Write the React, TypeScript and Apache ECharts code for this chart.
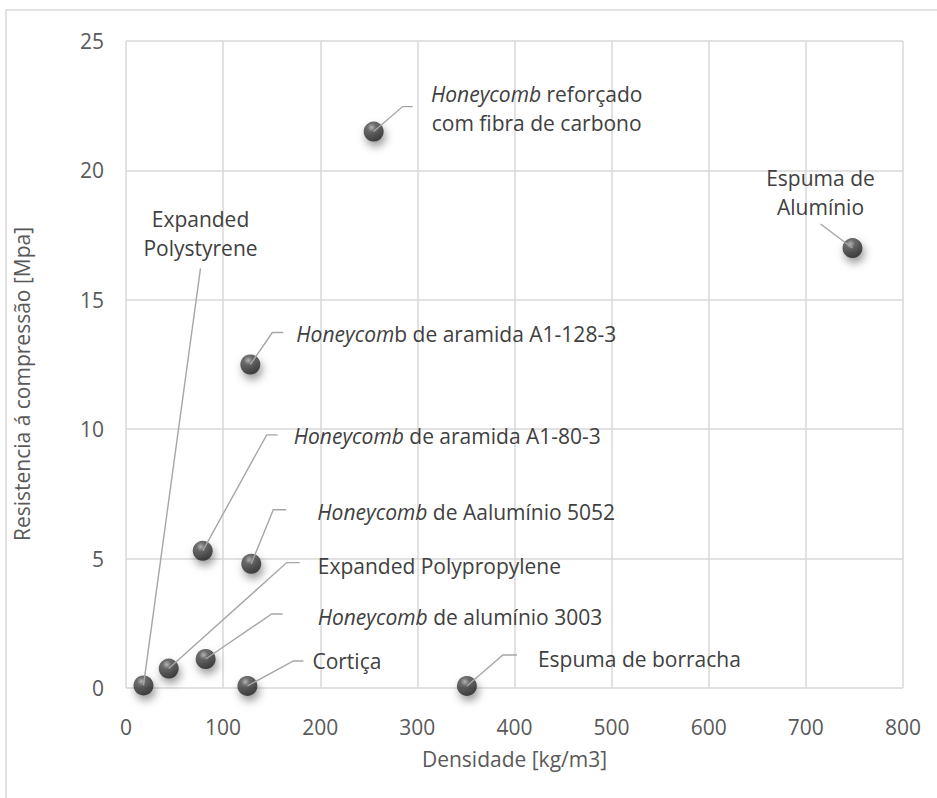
import React, { useEffect, useRef } from "react";
import * as echarts from "echarts";

// Density [kg/m3]
const densities = [18, 44, 82, 125, 351, 79, 129, 128, 255, 748];
// Compressive strength [MPa]
const strengths = [0.1, 0.75, 1.12, 0.08, 0.08, 5.3, 4.8, 12.5, 21.5, 17.0];
// Point labels ({i|...} = italic)
const pointLabels = [
  "Expanded\nPolystyrene",
  "Expanded Polypropylene",
  "{i|Honeycomb} de alumínio 3003",
  "Cortiça",
  "Espuma de borracha",
  "{i|Honeycomb} de aramida A1-80-3",
  "{i|Honeycomb} de Aalumínio 5052",
  "{i|Honeycom}b de aramida A1-128-3",
  "{i|Honeycomb} reforçado\ncom fibra de carbono",
  "Espuma de\nAlumínio",
];
const xTitle = "Densidade [kg/m3]";
const yTitle = "Resistencia á compressão [Mpa]";

// Callout geometry (pixel offsets from each point), kept apart from the data
const calloutLayout = [
  { dx: 57, dy: -417, h: 0, tx: 57, ty: -423, align: "center", va: "bottom" },
  { dx: 118, dy: -106, h: 13, tx: 149, ty: -103, align: "left", va: "middle" },
  { dx: 66, dy: -45, h: 11, tx: 112, ty: -42, align: "left", va: "middle" },
  { dx: 46, dy: -25, h: 10, tx: 65, ty: -25, align: "left", va: "middle" },
  { dx: 36, dy: -31, h: 14, tx: 71, ty: -27, align: "left", va: "middle" },
  { dx: 64, dy: -116, h: 11, tx: 91, ty: -115, align: "left", va: "middle" },
  { dx: 22, dy: -54, h: 13, tx: 66, ty: -52, align: "left", va: "middle" },
  { dx: 22, dy: -32, h: 11, tx: 46, ty: -31, align: "left", va: "middle" },
  { dx: 29, dy: -25, h: 10, tx: 163, ty: -23, align: "center", va: "middle" },
  { dx: -32, dy: -24, h: 0, tx: -32, ty: -27, align: "center", va: "bottom" },
];

const FONT = "'Open Sans', 'Noto Sans', sans-serif";
const FS = 21;

export default function App() {
  const ref = useRef<HTMLDivElement>(null);

  useEffect(() => {
    if (!ref.current) return;
    const chart = echarts.init(ref.current, undefined, { renderer: "svg" });
    const data = densities.map((x, i) => [x, strengths[i]]);

    chart.setOption({
      animation: false,
      backgroundColor: "#ffffff",
      grid: { left: 126, right: 34, top: 41, bottom: 110, containLabel: false },
      xAxis: {
        type: "value",
        min: 0,
        max: 800,
        interval: 100,
        name: xTitle,
        nameLocation: "middle",
        nameGap: 60,
        nameTextStyle: { color: "#595959", fontSize: FS, fontFamily: FONT },
        axisLine: { show: false },
        axisTick: { show: false },
        axisLabel: { color: "#595959", fontSize: FS, fontFamily: FONT, margin: 28 },
        splitLine: { show: true, lineStyle: { color: "#d9d9d9", width: 1.5 } },
      },
      yAxis: {
        type: "value",
        min: 0,
        max: 25,
        interval: 5,
        axisLine: { show: false },
        axisTick: { show: false },
        axisLabel: { color: "#595959", fontSize: FS, fontFamily: FONT, margin: 22 },
        splitLine: { show: true, lineStyle: { color: "#d9d9d9", width: 1.5 } },
      },
      graphic: [
        {
          type: "rect",
          silent: true,
          shape: { x: 6, y: 10, width: 1200, height: 1200 },
          style: { fill: "none", stroke: "#d9d9d9", lineWidth: 1.5 },
          z: -10,
        },
        {
          type: "text",
          x: 22,
          y: 384,
          rotation: Math.PI / 2,
          style: {
            text: yTitle,
            fill: "#595959",
            fontSize: FS,
            fontFamily: FONT,
            align: "center",
            verticalAlign: "middle",
          },
        },
      ],
      series: [
        {
          type: "scatter",
          data,
          symbol: "circle",
          symbolSize: 20,
          z: 2,
          itemStyle: {
            color: {
              type: "radial",
              x: 0.4,
              y: 0.3,
              r: 0.72,
              colorStops: [
                { offset: 0, color: "#a8a8a8" },
                { offset: 0.3, color: "#4d4d4d" },
                { offset: 1, color: "#1e1e1e" },
              ],
            },
            shadowBlur: 8,
            shadowOffsetX: 2,
            shadowOffsetY: 5,
            shadowColor: "rgba(0,0,0,0.5)",
          },
        },
        {
          type: "custom",
          data,
          z: 3,
          silent: true,
          clip: false,
          renderItem: (params: any, api: any) => {
            const i = params.dataIndex;
            const p = api.coord([api.value(0), api.value(1)]);
            const L = calloutLayout[i];
            const pts: number[][] = [
              [p[0], p[1]],
              [p[0] + L.dx, p[1] + L.dy],
            ];
            if (L.h) pts.push([p[0] + L.dx + L.h, p[1] + L.dy]);
            return {
              type: "group",
              children: [
                {
                  type: "polyline",
                  shape: { points: pts },
                  style: { stroke: "#a6a6a6", lineWidth: 1.4, fill: "none" },
                },
                {
                  type: "text",
                  x: p[0] + L.tx,
                  y: p[1] + L.ty,
                  style: {
                    text: pointLabels[i],
                    fill: "#404040",
                    fontSize: FS,
                    fontFamily: FONT,
                    align: L.align,
                    verticalAlign: L.va,
                    lineHeight: 29,
                    rich: {
                      i: {
                        fontStyle: "italic",
                        fontSize: FS,
                        fontFamily: FONT,
                        fill: "#404040",
                        lineHeight: 29,
                      },
                    },
                  },
                },
              ],
            };
          },
        },
      ],
    });

    return () => chart.dispose();
  }, []);

  return (
    <div
      ref={ref}
      style={{ position: "fixed", left: 0, top: 0, width: 937, height: 798 }}
    />
  );
}
